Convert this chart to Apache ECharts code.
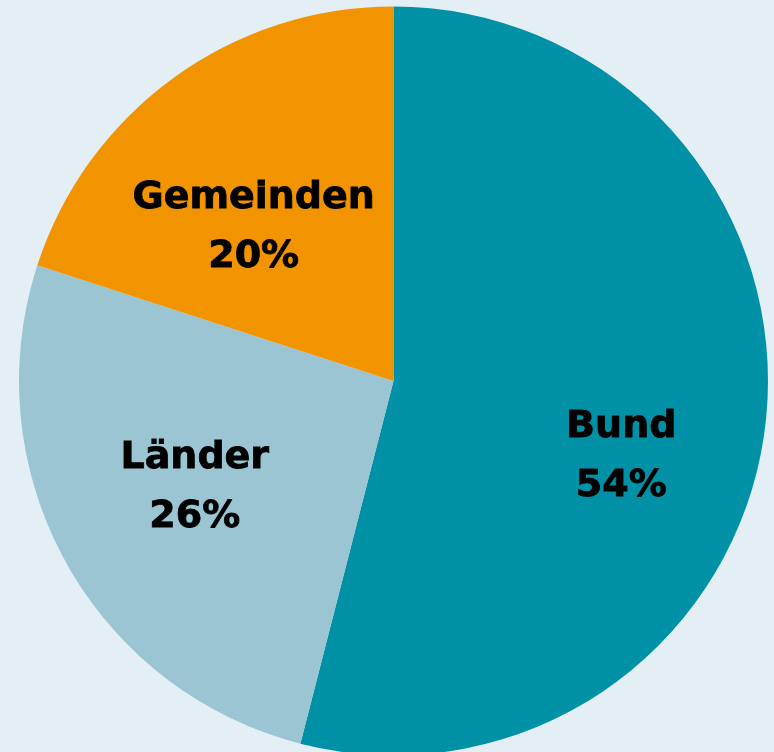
<!DOCTYPE html>
<html>
<head>
<meta charset="utf-8">
<script src="https://cdn.jsdelivr.net/npm/echarts@6/dist/echarts.min.js"></script>
<style>
  html, body { margin: 0; padding: 0; background: #e3eff5; }
  #main { width: 774px; height: 752px; }
</style>
</head>
<body>
<div id="main"></div>
<script>
var categories = ['Bund', 'Länder', 'Gemeinden'];
var shares = [54, 26, 20];
var colors = ['#0091a7', '#9bc5d3', '#f29400'];

// nudges of the inside labels away from the default half-radius spot
var labelShift = [[39, 52], [-32, 15], [-28, 1]];

var myChart = echarts.init(document.getElementById('main'));
var option = {
  backgroundColor: '#e3eff5',
  animation: false,
  series: [
    {
      type: 'pie',
      center: [393.5, 381],
      radius: 374.5,
      startAngle: 90,
      clockwise: true,
      silent: true,
      itemStyle: { borderWidth: 0 },
      label: {
        position: 'inside',
        formatter: '{b}\n{c}%',
        color: '#000',
        fontFamily: 'DejaVu Sans',
        fontWeight: 'bold',
        fontSize: 38,
        lineHeight: 59,
        align: 'center',
        textBorderColor: '#000',
        textBorderWidth: 0.8
      },
      labelLine: { show: false },
      labelLayout: function (params) {
        var s = labelShift[params.dataIndex];
        return { dx: s[0], dy: s[1] };
      },
      data: categories.map(function (name, i) {
        return { name: name, value: shares[i], itemStyle: { color: colors[i] } };
      })
    }
  ]
};

myChart.setOption(option);
</script>
</body>
</html>
